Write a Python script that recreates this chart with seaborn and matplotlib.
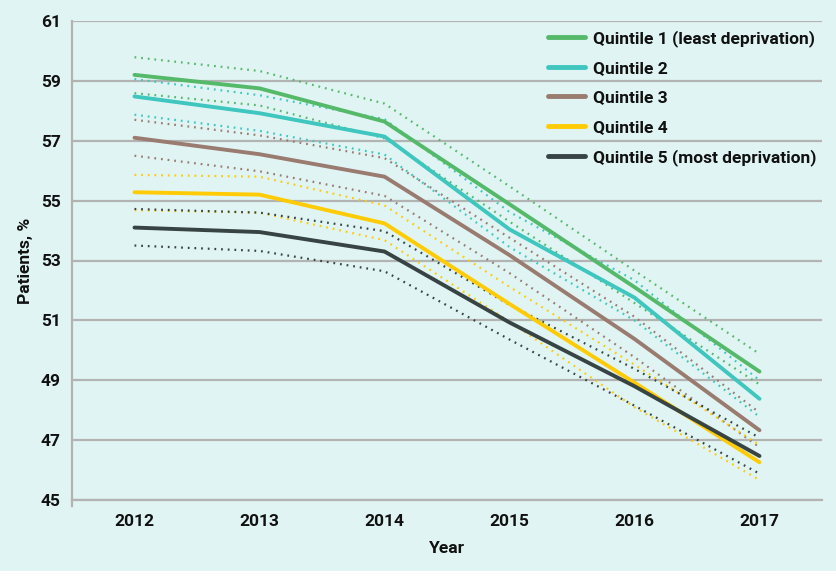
import numpy as np
import pandas as pd
import seaborn as sns
import matplotlib.pyplot as plt
from matplotlib.patches import Rectangle

years = [2012, 2013, 2014, 2015, 2016, 2017]
quintiles = ["Quintile 1 (least deprivation)", "Quintile 2", "Quintile 3",
             "Quintile 4", "Quintile 5 (most deprivation)"]

q1 = [59.20, 58.75, 57.64, 54.88, 52.11, 49.29]
q2 = [58.48, 57.92, 57.14, 54.04, 51.76, 48.38]
q3 = [57.10, 56.55, 55.80, 53.18, 50.38, 47.33]
q4 = [55.28, 55.20, 54.24, 51.55, 48.92, 46.26]
q5 = [54.10, 53.95, 53.30, 50.93, 48.80, 46.47]

q1_lo = [58.59, 58.18, 57.08, 54.30, 51.58, 48.86]
q1_hi = [59.79, 59.33, 58.24, 55.48, 52.66, 49.88]
q2_lo = [57.87, 57.33, 56.54, 53.45, 51.00, 47.78]
q2_hi = [59.06, 58.52, 57.72, 54.62, 52.34, 49.00]
q3_lo = [56.50, 55.98, 55.16, 52.58, 49.77, 46.76]
q3_hi = [57.70, 57.18, 56.42, 53.76, 51.12, 47.92]
q4_lo = [54.68, 54.60, 53.68, 50.96, 48.10, 45.67]
q4_hi = [55.86, 55.80, 54.84, 52.12, 49.52, 46.84]
q5_lo = [53.50, 53.32, 52.64, 50.36, 48.15, 45.88]
q5_hi = [54.72, 54.60, 53.98, 51.52, 49.38, 47.08]

colors = ["#55b96a", "#3ec6bf", "#9a7b70", "#ffcb05", "#384444"]

mid = [q1, q2, q3, q4, q5]
lows = [q1_lo, q2_lo, q3_lo, q4_lo, q5_lo]
highs = [q1_hi, q2_hi, q3_hi, q4_hi, q5_hi]

rows = []
for name, m, lo, hi in zip(quintiles, mid, lows, highs):
    for i, y in enumerate(years):
        rows.append({"year": y, "group": name, "value": m[i], "lo": lo[i], "hi": hi[i]})
df = pd.DataFrame(rows)

bg = "#e0f5f3"
grid = "#b3b3b3"
sns.set_theme(style="white")
plt.rcParams["font.family"] = ["Roboto", "DejaVu Sans"]
plt.rcParams["font.weight"] = "bold"

fig = plt.figure(figsize=(8.37, 5.81), dpi=100, facecolor=bg)
fig.patches.append(Rectangle((0, 0), 1, 10 / 581, transform=fig.transFigure,
                             facecolor="white", edgecolor="none", zorder=-1))
ax = fig.add_axes([72 / 837, 81 / 581, 750 / 837, 479 / 581])
ax.set_facecolor(bg)

palette = dict(zip(quintiles, colors))
for col in ["lo", "hi"]:
    sns.lineplot(data=df, x="year", y=col, hue="group", palette=palette, ax=ax,
                 linewidth=1.6, dashes=False, legend=False, zorder=2)
for line in ax.get_lines():
    line.set_linestyle((0, (0.8, 2.2)))
sns.lineplot(data=df, x="year", y="value", hue="group", palette=palette, ax=ax,
             linewidth=2.8, zorder=3)

ax.set_xlim(2011.5, 2017.5)
ax.set_ylim(45, 61)
ax.set_yticks(np.arange(45, 62, 2))
ax.set_xticks(years)
ax.set_xticks(np.arange(2011.5, 2018, 1), minor=True)
ax.grid(axis="y", color=grid, linewidth=1.6, zorder=0)
ax.set_axisbelow(True)
for s in ["top", "right"]:
    ax.spines[s].set_visible(False)
for s in ["left", "bottom"]:
    ax.spines[s].set_color(grid)
    ax.spines[s].set_linewidth(1.6)
ax.spines["left"].set_bounds(44.8, 61)
ax.tick_params(axis="y", length=0, labelsize=12.5, pad=8, colors="#111111")
ax.tick_params(axis="x", which="major", direction="in", length=6, width=1.6,
               color=grid, labelsize=12.5, pad=10, labelcolor="#111111")
ax.tick_params(axis="x", which="minor", direction="out", length=6, width=1.6,
               color=grid)
for lab in ax.get_xticklabels() + ax.get_yticklabels():
    lab.set_fontweight("bold")

ax.set_xlabel("Year", fontsize=12.5, fontweight="bold", labelpad=9, color="#111111")
ax.set_ylabel("Patients, %", fontsize=12.5, fontweight="bold", labelpad=6, color="#111111")

leg = ax.legend(loc="upper left", bbox_to_anchor=(0.635, 0.982), frameon=False,
                fontsize=12.5, handlelength=2.1, handletextpad=0.45, labelspacing=0.82,
                borderpad=0, borderaxespad=0)
for t in leg.get_texts():
    t.set_fontweight("bold")
    t.set_color("#111111")
for h in leg.get_lines():
    h.set_linewidth(3.5)

fig.savefig("out.png", dpi=100, facecolor=bg)
